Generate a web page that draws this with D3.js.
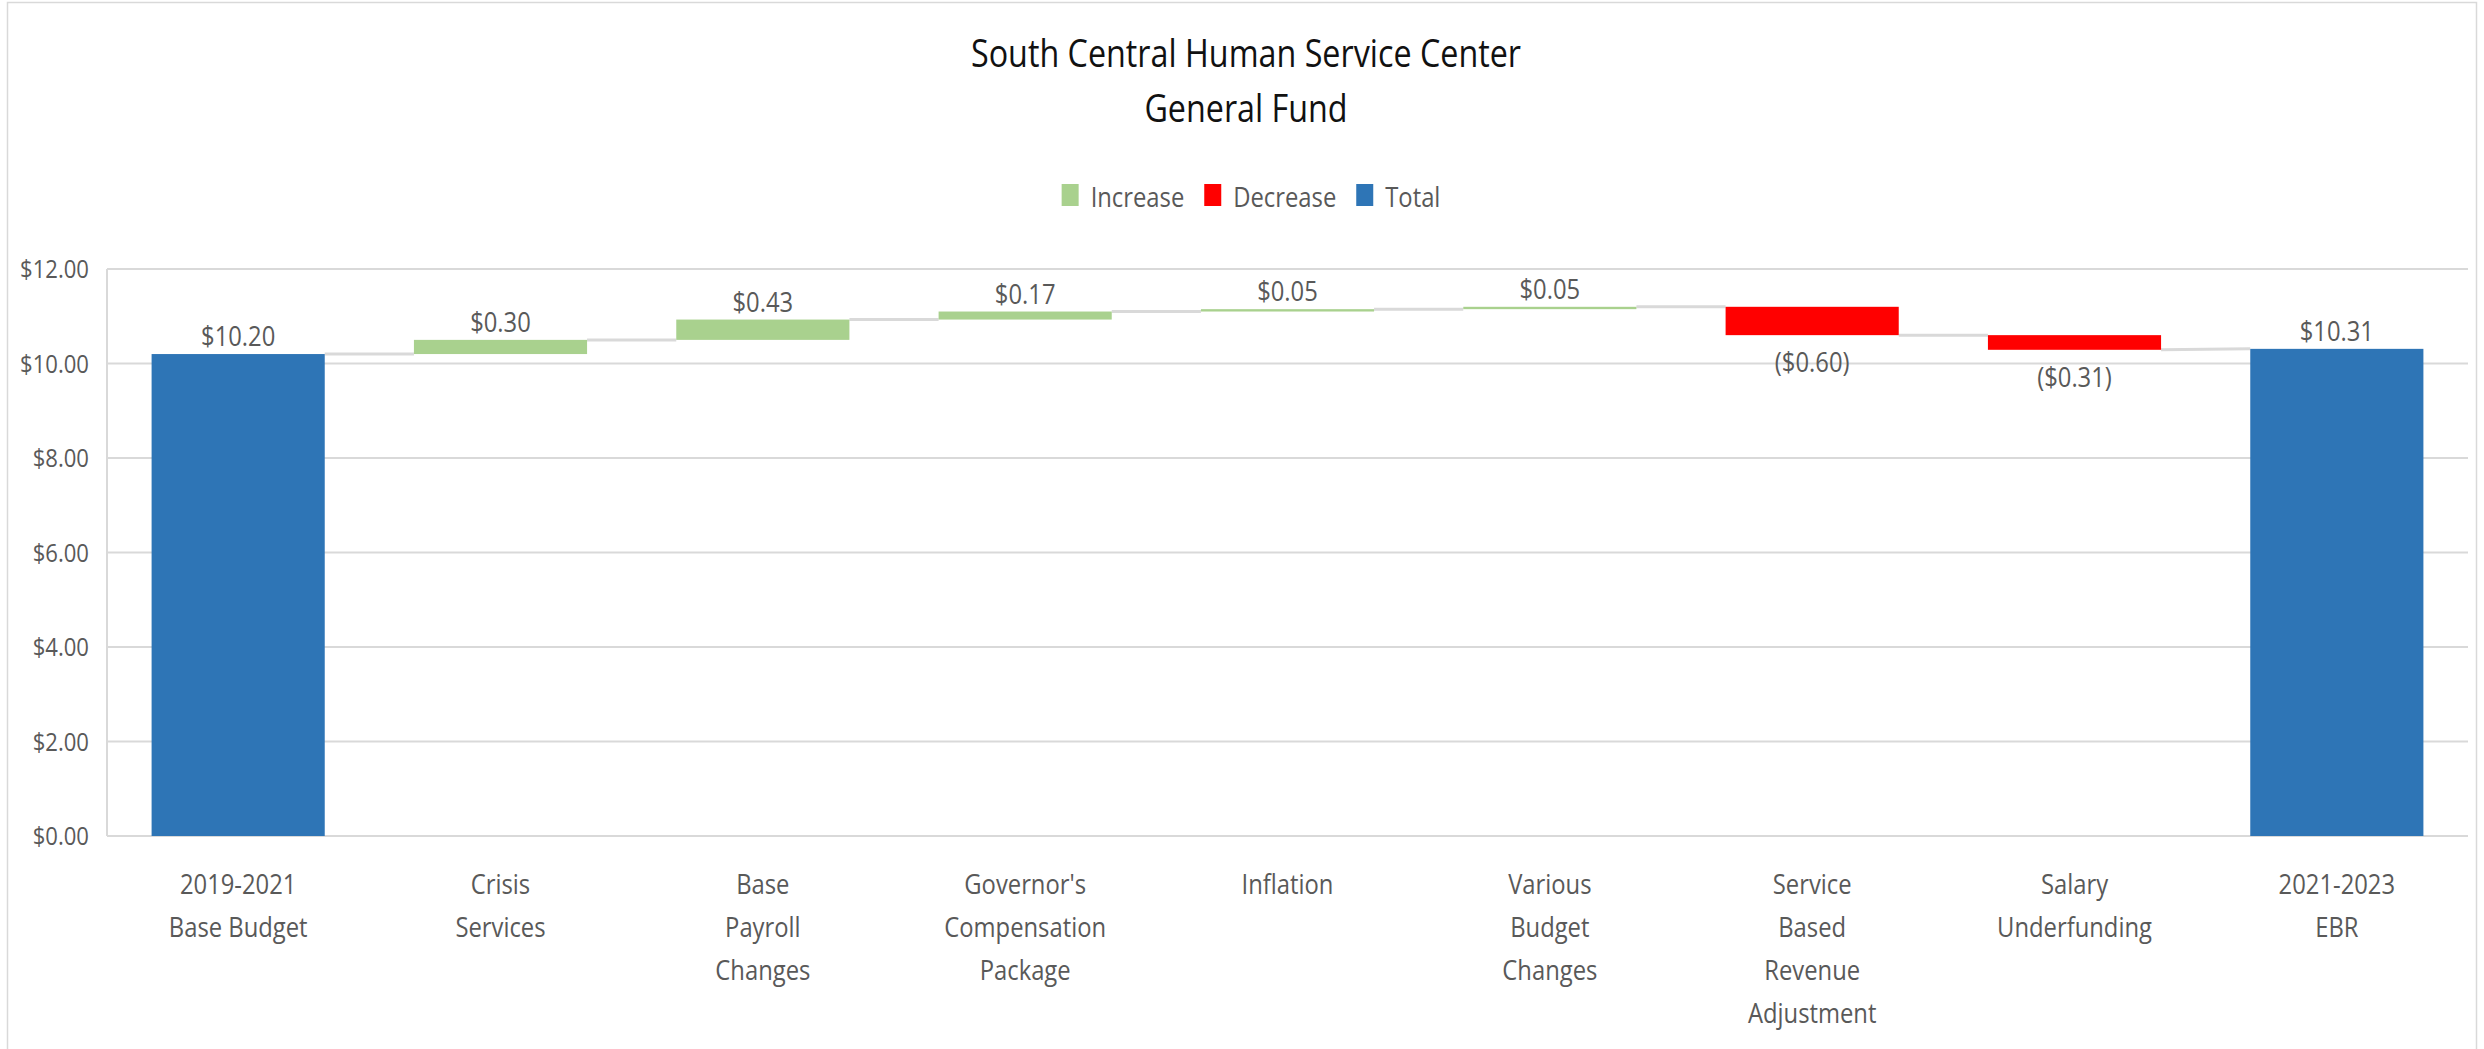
<!DOCTYPE html>
<html>
<head>
<meta charset="utf-8">
<script src="https://cdn.jsdelivr.net/npm/d3@7"></script>
<style>
    body { margin: 0; background: #fff; }
    text { font-family: "Open Sans", sans-serif; }
</style>
</head>
<body>
<script>
// Datos del gráfico

const categorias = ['2019-2021|Base Budget', 'Crisis|Services', 'Base|Payroll|Changes', "Governor's|Compensation|Package",
    'Inflation', 'Various|Budget|Changes', 'Service|Based|Revenue|Adjustment', 'Salary|Underfunding', '2021-2023|EBR'];

const tipos = ['Total', 'Increase', 'Increase', 'Increase', 'Increase', 'Increase', 'Decrease', 'Decrease', 'Total'];

const valores = [10.20, 0.30, 0.43, 0.17, 0.05, 0.05, -0.60, -0.31, 10.31];

const ticksY = [0, 2, 4, 6, 8, 10, 12];

const leyenda = ['Increase', 'Decrease', 'Total'];

const titulo = ['South Central Human Service Center', 'General Fund'];

// Tamaños

const w = 2484;
const h = 1049;
const margen = { top: 269, right: 16, bottom: 213, left: 107 };
const sx = 0.85;   // el texto del original está comprimido en horizontal

const colores = { Increase: '#a9d18e', Decrease: '#ff0000', Total: '#2e75b6' };

var svg = d3.select('body')
    .append('svg')
    .attr('width', w)
    .attr('height', h);

// Marco exterior
svg.append('rect')
    .attr('x', 7.5)
    .attr('y', 2.5)
    .attr('width', 2469)
    .attr('height', 1100)
    .attr('fill', 'none')
    .attr('stroke', '#d9d9d9')
    .attr('stroke-width', 1.5);

// Calcula inicio y fin de cada barra
var acumulado = 0;
const barras = valores.map((v, i) => {
    let ini, fin;
    if (tipos[i] === 'Total') {
        ini = 0;
        fin = v;
        acumulado = v;
    } else {
        ini = acumulado;
        fin = acumulado + v;
        acumulado = fin;
    }
    return { cat: categorias[i], tipo: tipos[i], valor: v, ini: ini, fin: fin };
});

// Escalas
const x = d3.scaleBand()
    .domain(categorias)
    .range([margen.left, w - margen.right])
    .paddingInner(0.34)
    .paddingOuter(0.17);

const y = d3.scaleLinear()
    .domain([0, 12])
    .range([h - margen.bottom, margen.top]);

// Líneas de la cuadrícula
svg.append('g')
    .selectAll('line')
    .data(ticksY)
    .enter()
    .append('line')
    .attr('x1', margen.left)
    .attr('x2', w - margen.right)
    .attr('y1', (d) => y(d))
    .attr('y2', (d) => y(d))
    .attr('stroke', '#d9d9d9')
    .attr('stroke-width', 2);

// Eje vertical
svg.append('line')
    .attr('x1', margen.left)
    .attr('x2', margen.left)
    .attr('y1', y(12))
    .attr('y2', y(0))
    .attr('stroke', '#d9d9d9')
    .attr('stroke-width', 2);

// Etiquetas del eje Y
svg.append('g')
    .selectAll('text')
    .data(ticksY)
    .enter()
    .append('text')
    .attr('transform', (d) => `translate(${margen.left - 18},${y(d)}) scale(${sx},1)`)
    .attr('dy', '0.36em')
    .attr('text-anchor', 'end')
    .attr('font-size', '26px')
    .attr('fill', '#595959')
    .text((d) => '$' + d.toFixed(2));

// Conectores entre barras
const conectores = barras.slice(1).map((b, i) => ({ a: barras[i], b: b }));

svg.append('g')
    .selectAll('line')
    .data(conectores)
    .enter()
    .append('line')
    .attr('x1', (d) => x(d.a.cat) + x.bandwidth())
    .attr('x2', (d) => x(d.b.cat))
    .attr('y1', (d) => y(d.a.fin))
    .attr('y2', (d) => y(d.b.tipo === 'Total' ? d.b.fin : d.b.ini))
    .attr('stroke', '#d9d9d9')
    .attr('stroke-width', 3);

// Barras
svg.append('g')
    .selectAll('rect')
    .data(barras)
    .enter()
    .append('rect')
    .attr('x', (d) => x(d.cat))
    .attr('width', x.bandwidth())
    .attr('y', (d) => y(Math.max(d.ini, d.fin)))
    .attr('height', (d) => Math.abs(y(d.ini) - y(d.fin)))
    .attr('fill', (d) => colores[d.tipo]);

// Etiquetas de valor
const formato = (v) => v < 0 ? '($' + Math.abs(v).toFixed(2) + ')' : '$' + v.toFixed(2);

svg.append('g')
    .selectAll('text')
    .data(barras)
    .enter()
    .append('text')
    .attr('transform', (d) => {
        const cx = x(d.cat) + x.bandwidth() / 2;
        const cy = d.valor < 0 ? y(Math.min(d.ini, d.fin)) + 37 : y(Math.max(d.ini, d.fin)) - 8;
        return `translate(${cx},${cy}) scale(${sx},1)`;
    })
    .attr('text-anchor', 'middle')
    .attr('font-size', '28px')
    .attr('fill', '#595959')
    .text((d) => formato(d.valor));

// Etiquetas del eje X
svg.append('g')
    .selectAll('text')
    .data(categorias)
    .enter()
    .append('text')
    .attr('transform', (d) => `translate(${x(d) + x.bandwidth() / 2},${y(0) + 58}) scale(${sx},1)`)
    .attr('text-anchor', 'middle')
    .attr('font-size', '28px')
    .attr('fill', '#595959')
    .selectAll('tspan')
    .data((d) => d.split('|'))
    .enter()
    .append('tspan')
    .attr('x', 0)
    .attr('y', (d, i) => i * 43)
    .text((d) => d);

// Título
svg.append('text')
    .attr('transform', `translate(1246,0) scale(${sx},1)`)
    .attr('text-anchor', 'middle')
    .attr('font-size', '38px')
    .attr('fill', '#111')
    .selectAll('tspan')
    .data(titulo)
    .enter()
    .append('tspan')
    .attr('x', 0)
    .attr('y', (d, i) => 67 + i * 55)
    .text((d) => d);

// Leyenda
var gLeyenda = svg.append('g');

var items = gLeyenda.selectAll('g')
    .data(leyenda)
    .enter()
    .append('g');

items.append('rect')
    .attr('width', 17)
    .attr('height', 22)
    .attr('y', 184)
    .attr('fill', (d) => colores[d]);

items.append('text')
    .attr('transform', `translate(29,207) scale(${sx},1)`)
    .attr('font-size', '28px')
    .attr('fill', '#595959')
    .text((d) => d);

// Coloca los elementos de la leyenda uno detrás de otro
var posX = 0;
items.each(function () {
    const ancho = 29 + this.querySelector('text').getComputedTextLength() * sx;
    d3.select(this).attr('transform', `translate(${posX},0)`);
    posX += ancho + 20;
});
const anchoTotal = posX - 20;
gLeyenda.attr('transform', `translate(${1251 - anchoTotal / 2},0)`);

</script>
</body>
</html>
